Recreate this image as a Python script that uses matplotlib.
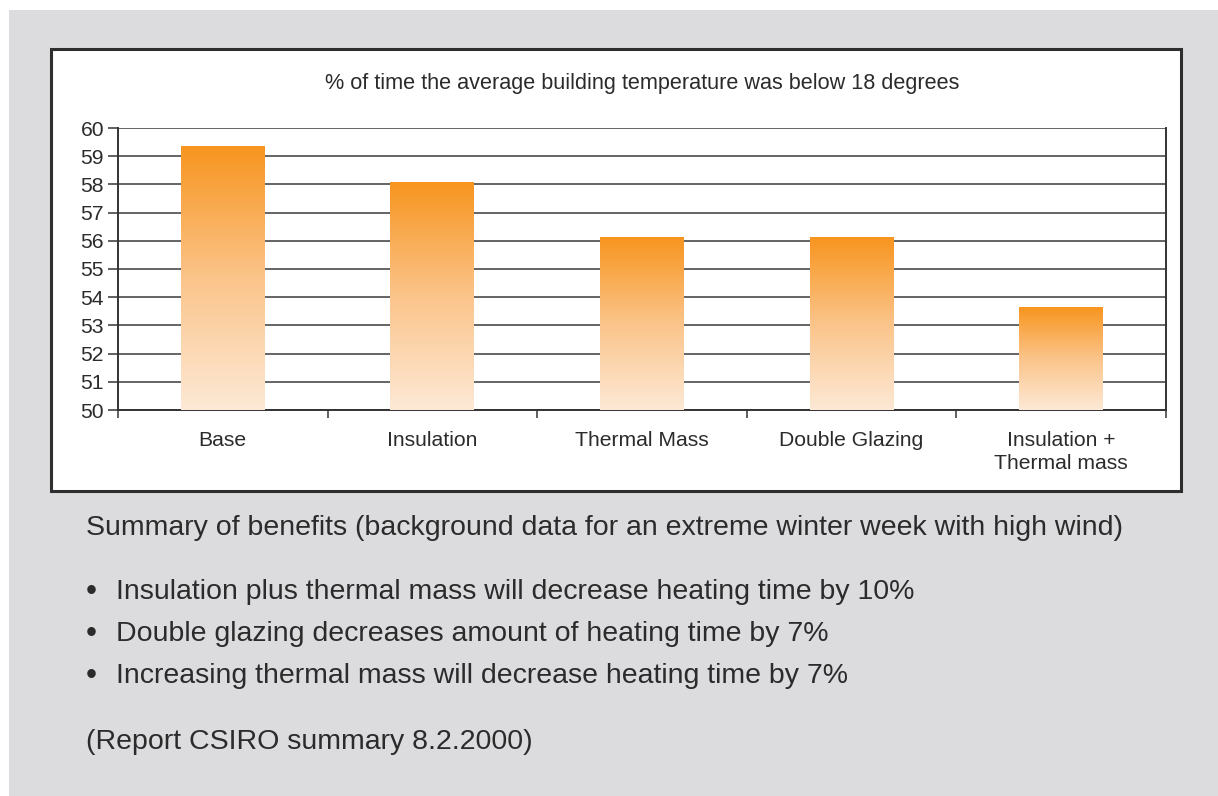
import numpy as np
import matplotlib
matplotlib.use("Agg")
from matplotlib import pyplot as plt
from matplotlib.patches import Rectangle

# data
categories = ["Base", "Insulation", "Thermal Mass", "Double Glazing", "Insulation +\nThermal mass"]
values = [59.33, 58.05, 56.1, 56.1, 53.65]
yticks = list(range(50, 61))
title = "% of time the average building temperature was below 18 degrees"
summary = "Summary of benefits (background data for an extreme winter week with high wind)"
bullets = [
    "Insulation plus thermal mass will decrease heating time by 10%",
    "Double glazing decreases amount of heating time by 7%",
    "Increasing thermal mass will decrease heating time by 7%",
]
source = "(Report CSIRO summary 8.2.2000)"

plt.rcParams["font.family"] = ["Liberation Sans", "DejaVu Sans"]
W, H = 1218, 796
fig = plt.figure(figsize=(W / 100, H / 100), dpi=100)
fig.patch.set_facecolor("white")
txt = "#2b2b2b"

def fx(px):
    return px / W

def fy(py):
    return 1 - py / H

# grey panel and white chart box
fig.patches.append(Rectangle((fx(9), 0), 1 - fx(9), fy(10), transform=fig.transFigure,
                             facecolor="#dcdcde", edgecolor="none", zorder=0))
fig.patches.append(Rectangle((fx(51), fy(491)), fx(1181 - 51), (491 - 49) / H, transform=fig.transFigure,
                             facecolor="white", edgecolor="#2e2e2e", linewidth=2.2, zorder=1))

ax = fig.add_axes([fx(118), fy(410), fx(1166 - 118), (410 - 128) / H])
ax.set_zorder(2)
ax.set_facecolor("white")

x = np.arange(len(categories))
bars = ax.bar(x, np.array(values) - 50, bottom=50, width=0.4, color="none", zorder=3)

# vertical orange gradient inside each bar
grad = np.linspace(0, 1, 256).reshape(-1, 1)
cmap = matplotlib.colors.LinearSegmentedColormap.from_list("og", ["#fde9d6", "#fbc48a", "#f7951f"])
for b in bars:
    x0, y0 = b.get_x(), b.get_y()
    ax.imshow(grad, extent=[x0, x0 + b.get_width(), y0, y0 + b.get_height()],
              origin="lower", aspect="auto", cmap=cmap, zorder=3)

ax.set_xlim(-0.5, len(categories) - 0.5)
ax.set_ylim(50, 60)
ax.set_yticks(yticks)
ax.set_yticklabels([str(t) for t in yticks], fontsize=15.2, color=txt)
ax.set_xticks(x)
ax.set_xticklabels(categories, fontsize=15.2, color=txt, linespacing=1.3)
ax.set_xticks(np.arange(len(categories) + 1) - 0.5, minor=True)
ax.tick_params(axis="x", which="major", length=0, pad=15)
ax.tick_params(axis="x", which="minor", length=6, color="#444444", width=1.2)
ax.tick_params(axis="y", length=7, color="#444444", width=1.2, pad=3)
ax.yaxis.grid(True, color="#4a4a4a", linewidth=1.2, zorder=1)
ax.set_axisbelow(True)
for s in ["left", "bottom", "right"]:
    ax.spines[s].set_color("#333333")
    ax.spines[s].set_linewidth(1.4)
ax.spines["top"].set_visible(False)

fig.text(fx(642), fy(84), title, ha="center", va="center", fontsize=15.6, color=txt, zorder=5)

# summary text below the chart
fs = 20.5
fig.text(fx(86), fy(528), summary, ha="left", va="center", fontsize=fs, color=txt)
for i, line in enumerate(bullets):
    yy = fy(592 + 42 * i)
    fig.text(fx(86), yy, "\u2022", ha="left", va="center", fontsize=fs + 2, color=txt)
    fig.text(fx(116), yy, line, ha="left", va="center", fontsize=fs, color=txt)
fig.text(fx(86), fy(742), source, ha="left", va="center", fontsize=fs, color=txt)

fig.savefig("out.png", dpi=100)
